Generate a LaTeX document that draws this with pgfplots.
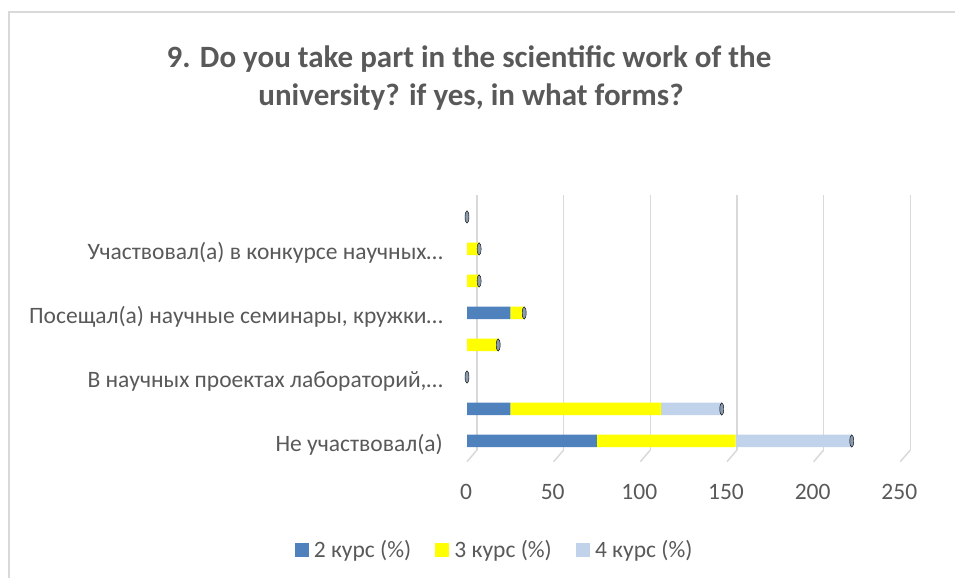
\documentclass[border=0pt]{standalone}
\usepackage{fontspec}
\setmainfont{Carlito}
\usepackage{pgfplots}
\pgfplotsset{compat=1.18}
\definecolor{txt}{HTML}{595959}
\definecolor{gridc}{HTML}{D9D9D9}
\definecolor{c2}{HTML}{4F81BD}
\definecolor{c3}{HTML}{FFFF00}
\definecolor{c4}{HTML}{C0D3EB}
\definecolor{capc}{HTML}{8A9BB0}
\begin{document}
\begin{tikzpicture}[x=1pt,y=1pt]
\path[use as bounding box] (0,0) rectangle (955,578);
\draw[gridc, line width=1.2pt] (9,0) -- (9,566) -- (955,566);
% title
\node[txt, font=\fontsize{31}{37}\selectfont\bfseries, anchor=base] at (469,510)
  {9. Do you take part in the scientific work of the};
\node[txt, font=\fontsize{31}{37}\selectfont\bfseries, anchor=base] at (471,472)
  {university? if yes, in what forms?};
\begin{axis}[
  at={(467pt,116.3pt)}, anchor=south west,
  scale only axis, width=433.3pt, height=255pt,
  xmin=0, xmax=250, ymin=-0.647, ymax=7.32,
  axis line style={draw=none}, tick style={draw=none},
  xtick={0,50,100,150,200,250},
  ytick={0,2,4,6},
  yticklabels={Не участвовал(а), {В научных проектах лабораторий,…},
               {Посещал(а) научные семинары, кружки…}, {Участвовал(а) в конкурсе научных…}},
  ticklabel style={font=\fontsize{23.5}{28}\selectfont, text=txt},
  /pgf/number format/assume math mode=true,
  xticklabel style={anchor=center, yshift=-30pt, xshift=-1pt},
  yticklabel style={anchor=east, inner sep=0pt, xshift=-24pt, yshift=-4pt},
  xmajorgrids,
  major grid style={gridc, line width=1.5pt, xshift=10pt, yshift=11.7pt},
  xbar stacked, bar width=12.5pt,
  clip=false,
  legend columns=3,
  legend style={draw=none, fill=none, at={(0.0635,-0.346)}, anchor=center,
    font=\fontsize{23.5}{28}\selectfont, text=txt,
    nodes={inner sep=2pt},
    /tikz/every even column/.append style={column sep=22pt}},
]
\pgfplotsinvokeforeach{0,50,100,150,200,250}{
  \draw[gridc, line width=1.5pt] (axis cs:#1,-0.647) -- ++(10pt,11.7pt);
}
% 2 курс (%)
\addplot+[forget plot, draw=none, fill=c2]
coordinates {(75,0) (25,1) (0,2) (0,3) (25,4) (0,5) (0,6) (0,7)};
% 3 курс (%)
\addplot+[forget plot, draw=none, fill=c3]
coordinates {(80,0) (87,1) (0,2) (18,3) (8,4) (7,5) (7,6) (0,7)};
% 4 курс (%)
\addplot+[forget plot, draw=none, fill=c4]
coordinates {(67,0) (35,1) (0,2) (0,3) (0,4) (0,5) (0,6) (0,7)};
% cylinder end caps at the totals
\addplot[forget plot, stack plots=false, only marks, mark=*, mark size=6.2pt,
  mark options={xscale=0.32, fill=capc, draw=none}]
coordinates {(222,0) (147,1) (0,2) (18,3) (33,4) (7,5) (7,6) (0,7)};
\addlegendimage{legend image code/.code={\fill[c2] (0pt,-6.5pt) rectangle (13pt,6.5pt); \path[draw=none] (0pt,0pt) -- (17pt,0pt);}}
\addlegendimage{legend image code/.code={\fill[c3] (0pt,-6.5pt) rectangle (13pt,6.5pt); \path[draw=none] (0pt,0pt) -- (17pt,0pt);}}
\addlegendimage{legend image code/.code={\fill[c4] (0pt,-6.5pt) rectangle (13pt,6.5pt); \path[draw=none] (0pt,0pt) -- (17pt,0pt);}}
\legend{2 курс (\%), 3 курс (\%), 4 курс (\%)}
\end{axis}
\end{tikzpicture}
\end{document}
